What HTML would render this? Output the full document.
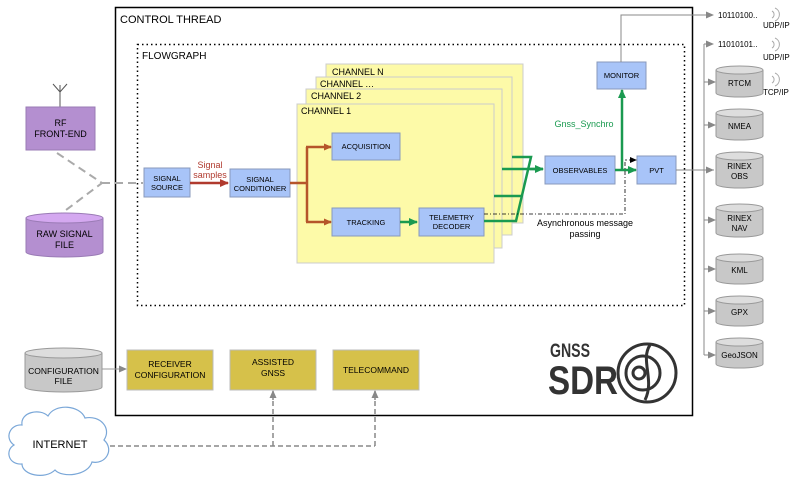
<!DOCTYPE html>
<html><head><meta charset="utf-8"><style>
html,body{margin:0;padding:0;background:#fff}
svg{display:block;font-family:"Liberation Sans",Arial,sans-serif}
</style></head><body>
<svg width="800" height="482" viewBox="0 0 800 482" xmlns="http://www.w3.org/2000/svg">
<defs>
<marker id="ag" markerWidth="8" markerHeight="8" refX="7" refY="4" orient="auto" markerUnits="userSpaceOnUse"><path d="M0,0.5 L8,4 L0,7.5z" fill="#888"/></marker>
<marker id="ab" markerWidth="8" markerHeight="8" refX="7" refY="4" orient="auto" markerUnits="userSpaceOnUse"><path d="M0,0.5 L8,4 L0,7.5z" fill="#b5552a"/></marker>
<marker id="ar" markerWidth="9" markerHeight="9" refX="8" refY="4.5" orient="auto" markerUnits="userSpaceOnUse"><path d="M0,0.5 L9,4.5 L0,8.5z" fill="#b03a2e"/></marker>
<marker id="agr" markerWidth="9" markerHeight="9" refX="8" refY="4.5" orient="auto" markerUnits="userSpaceOnUse"><path d="M0,0.5 L9,4.5 L0,8.5z" fill="#1a9a50"/></marker>
<marker id="ak" markerWidth="7" markerHeight="7" refX="6" refY="3.5" orient="auto" markerUnits="userSpaceOnUse"><path d="M0,0.5 L7,3.5 L0,6.5z" fill="#000"/></marker>
</defs>

<!-- control thread -->
<rect x="115.5" y="7.5" width="577" height="408" fill="#fff" stroke="#000" stroke-width="1.5"/>
<text x="120" y="23" font-size="11">CONTROL THREAD</text>
<rect x="137.5" y="44.5" width="547" height="261" fill="none" stroke="#000" stroke-width="1.5" stroke-dasharray="1.5,3"/>
<text x="142" y="59" font-size="10">FLOWGRAPH</text>

<!-- RF front end -->
<line x1="60" y1="85" x2="60" y2="107" stroke="#555"/>
<path d="M53,84 L60,92 L67,84" stroke="#555" fill="none"/>
<rect x="26" y="107" width="69" height="43" fill="#b48fd0" stroke="#9a7bb5"/>
<text x="60.5" y="126" font-size="9" text-anchor="middle">RF</text>
<text x="60.5" y="137" font-size="9" text-anchor="middle">FRONT-END</text>
<!-- raw signal file -->
<path d="M26,218 L26,252 A38.5,5 0 0 0 103,252 L103,218" fill="#b48fd0" stroke="#9a7bb5"/>
<ellipse cx="64.5" cy="218" rx="38.5" ry="5" fill="#d4a8f0" stroke="#9a7bb5"/>
<text x="64.5" y="237" font-size="9" text-anchor="middle">RAW SIGNAL</text>
<text x="64.5" y="248" font-size="9" text-anchor="middle">FILE</text>
<path d="M57,153 L102,183 L62,213 M102,183 L143,183" stroke="#aaa" stroke-width="2" fill="none" stroke-dasharray="8,5"/>

<!-- signal source / conditioner -->
<rect x="144" y="168" width="46" height="29" fill="#a8c4f8" stroke="#8899bb"/>
<text x="167" y="181" font-size="7.5" text-anchor="middle">SIGNAL</text>
<text x="167" y="190" font-size="7.5" text-anchor="middle">SOURCE</text>
<text x="210" y="168" font-size="9" fill="#b03a2e" text-anchor="middle">Signal</text>
<text x="210" y="178" font-size="9" fill="#b03a2e" text-anchor="middle">samples</text>
<line x1="190" y1="183" x2="228" y2="183" stroke="#b03a2e" stroke-width="2.5" marker-end="url(#ar)"/>
<rect x="230" y="169" width="60" height="28" fill="#a8c4f8" stroke="#8899bb"/>
<text x="260" y="182" font-size="7.5" text-anchor="middle">SIGNAL</text>
<text x="260" y="191" font-size="7.5" text-anchor="middle">CONDITIONER</text>

<!-- channels -->
<rect x="326" y="64" width="197" height="159" fill="#fdfaa8" stroke="#ccc"/>
<text x="332" y="75" font-size="9">CHANNEL N</text>
<rect x="316" y="77" width="196" height="158" fill="#fdfaa8" stroke="#ccc"/>
<text x="320" y="87" font-size="9">CHANNEL …</text>
<rect x="306" y="89" width="196" height="159" fill="#fdfaa8" stroke="#ccc"/>
<text x="311" y="99" font-size="9">CHANNEL 2</text>
<rect x="297" y="104" width="197" height="159" fill="#fdfaa8" stroke="#ccc"/>
<text x="301" y="114" font-size="9">CHANNEL 1</text>

<rect x="332" y="133" width="68" height="27" fill="#a8c4f8" stroke="#8899bb"/>
<text x="366" y="149" font-size="7.5" text-anchor="middle">ACQUISITION</text>
<rect x="332" y="208" width="68" height="28" fill="#a8c4f8" stroke="#8899bb"/>
<text x="366" y="225" font-size="7.5" text-anchor="middle">TRACKING</text>
<rect x="419" y="208" width="65" height="28" fill="#a8c4f8" stroke="#8899bb"/>
<text x="451.5" y="220" font-size="7.5" text-anchor="middle">TELEMETRY</text>
<text x="451.5" y="229" font-size="7.5" text-anchor="middle">DECODER</text>

<path d="M290,183 L307,183 M307,147 L307,222" stroke="#b5552a" stroke-width="2.5" fill="none"/>
<line x1="306" y1="147" x2="331" y2="147" stroke="#b5552a" stroke-width="2.5" marker-end="url(#ab)"/>
<line x1="306" y1="222" x2="331" y2="222" stroke="#b5552a" stroke-width="2.5" marker-end="url(#ab)"/>
<line x1="400" y1="222" x2="417" y2="222" stroke="#1a9a50" stroke-width="2.5" marker-end="url(#agr)"/>

<!-- green merging lines -->
<g stroke="#1a9a50" stroke-width="2.5" fill="none">
<path d="M512,157 L531,157 L516,221 L484,221"/>
<path d="M502,169 L543,169"/>
<path d="M494,196 L522,196"/>
</g>
<line x1="530" y1="169" x2="543" y2="169" stroke="#1a9a50" stroke-width="2.5" marker-end="url(#agr)"/>

<rect x="545" y="156" width="70" height="28" fill="#a8c4f8" stroke="#8899bb"/>
<text x="580" y="173" font-size="7.5" text-anchor="middle">OBSERVABLES</text>
<rect x="637" y="156" width="39" height="28" fill="#a8c4f8" stroke="#8899bb"/>
<text x="656.5" y="173" font-size="7.5" text-anchor="middle">PVT</text>
<rect x="597" y="62" width="49" height="27" fill="#a8c4f8" stroke="#8899bb"/>
<text x="621.5" y="78" font-size="7.5" text-anchor="middle">MONITOR</text>
<line x1="615" y1="170" x2="636" y2="170" stroke="#1a9a50" stroke-width="2.5" marker-end="url(#agr)"/>
<line x1="622" y1="170" x2="622" y2="90" stroke="#1a9a50" stroke-width="2.5" marker-end="url(#agr)"/>
<text x="584" y="127" font-size="9" fill="#1a9a50" text-anchor="middle">Gnss_Synchro</text>

<path d="M484,214 L625,214 L625,160" stroke="#000" stroke-width="0.8" fill="none" stroke-dasharray="4,2,1,2"/>
<line x1="625" y1="160" x2="636" y2="160" stroke="#000" stroke-width="0.8" stroke-dasharray="2,2" marker-end="url(#ak)"/>
<text x="585" y="226" font-size="9" text-anchor="middle">Asynchronous message</text>
<text x="585" y="237" font-size="9" text-anchor="middle">passing</text>

<!-- outputs -->
<g stroke="#888" stroke-width="1" fill="none">
<path d="M621,62 L621,15 L705,15"/>
<path d="M676,170 L714,170"/>
<path d="M704,44 L704,355"/>
</g>
<line x1="690" y1="15" x2="713" y2="15" stroke="#888" marker-end="url(#ag)"/>
<line x1="690" y1="170" x2="713" y2="170" stroke="#888" marker-end="url(#ag)"/>
<g stroke="#888" marker-end="url(#ag)">
<line x1="704" y1="44" x2="713" y2="44"/>
<line x1="704" y1="82" x2="715" y2="82"/>
<line x1="704" y1="125" x2="715" y2="125"/>
<line x1="704" y1="220" x2="715" y2="220"/>
<line x1="704" y1="269" x2="715" y2="269"/>
<line x1="704" y1="311" x2="715" y2="311"/>
<line x1="704" y1="355" x2="715" y2="355"/>
</g>
<text x="718" y="18" font-size="8">10110100..</text>
<text x="718" y="47" font-size="8">11010101..</text>
<g font-size="8">
<text x="763" y="28">UDP/IP</text>
<text x="763" y="60">UDP/IP</text>
<text x="763" y="95">TCP/IP</text>
</g>
<g stroke="#aaa" fill="none" stroke-width="1">
<path d="M772,11 a4,4 0 0 1 0,7 M775,8 a7,7 0 0 1 0,13"/>
<path d="M772,41 a4,4 0 0 1 0,7 M775,38 a7,7 0 0 1 0,13"/>
<path d="M772,76 a4,4 0 0 1 0,7 M775,73 a7,7 0 0 1 0,13"/>
</g>

<g stroke="#999" fill="#c8c8c8">
<path d="M716,70 L716,93 A23.5,4 0 0 0 763,93 L763,70"/><ellipse cx="739.5" cy="70" rx="23.5" ry="4" fill="#ddd"/>
<path d="M716,113 L716,136 A23.5,4 0 0 0 763,136 L763,113"/><ellipse cx="739.5" cy="113" rx="23.5" ry="4" fill="#ddd"/>
<path d="M716,156 L716,184 A23.5,4 0 0 0 763,184 L763,156"/><ellipse cx="739.5" cy="156" rx="23.5" ry="4" fill="#ddd"/>
<path d="M716,208 L716,233 A23.5,4 0 0 0 763,233 L763,208"/><ellipse cx="739.5" cy="208" rx="23.5" ry="4" fill="#ddd"/>
<path d="M716,258 L716,280 A23.5,4 0 0 0 763,280 L763,258"/><ellipse cx="739.5" cy="258" rx="23.5" ry="4" fill="#ddd"/>
<path d="M716,300 L716,322 A23.5,4 0 0 0 763,322 L763,300"/><ellipse cx="739.5" cy="300" rx="23.5" ry="4" fill="#ddd"/>
<path d="M716,342 L716,364 A23.5,4 0 0 0 763,364 L763,342"/><ellipse cx="739.5" cy="342" rx="23.5" ry="4" fill="#ddd"/>
</g>
<g font-size="8" text-anchor="middle">
<text x="739.5" y="86">RTCM</text>
<text x="739.5" y="129">NMEA</text>
<text x="739.5" y="169">RINEX</text><text x="739.5" y="179">OBS</text>
<text x="739.5" y="221">RINEX</text><text x="739.5" y="231">NAV</text>
<text x="739.5" y="273">KML</text>
<text x="739.5" y="315">GPX</text>
<text x="739.5" y="358">GeoJSON</text>
</g>

<!-- bottom -->
<path d="M25,353 L25,387 A38.5,5 0 0 0 102,387 L102,353" fill="#c8c8c8" stroke="#999"/>
<ellipse cx="63.5" cy="353" rx="38.5" ry="5" fill="#ddd" stroke="#999"/>
<text x="63.5" y="374" font-size="8.5" text-anchor="middle">CONFIGURATION</text>
<text x="63.5" y="384" font-size="8.5" text-anchor="middle">FILE</text>
<line x1="102" y1="369" x2="126" y2="369" stroke="#999" marker-end="url(#ag)"/>
<rect x="127" y="350" width="86" height="40" fill="#d6c14a" stroke="#bbb"/>
<text x="170" y="367" font-size="8.5" text-anchor="middle">RECEIVER</text>
<text x="170" y="378" font-size="8.5" text-anchor="middle">CONFIGURATION</text>
<rect x="230" y="350" width="86" height="40" fill="#d6c14a" stroke="#bbb"/>
<text x="273" y="365" font-size="8.5" text-anchor="middle">ASSISTED</text>
<text x="273" y="376" font-size="8.5" text-anchor="middle">GNSS</text>
<rect x="333" y="350" width="86" height="40" fill="#d6c14a" stroke="#bbb"/>
<text x="376" y="373" font-size="8.5" text-anchor="middle">TELECOMMAND</text>

<path d="M110,446 L375,446 M273,446 L273,395 M375,446 L375,395" stroke="#888" stroke-width="1.5" fill="none" stroke-dasharray="5,3"/>
<line x1="273" y1="400" x2="273" y2="391" stroke="#888" stroke-width="1.5" marker-end="url(#ag)"/>
<line x1="375" y1="400" x2="375" y2="391" stroke="#888" stroke-width="1.5" marker-end="url(#ag)"/>

<path d="M22,425 C20,412 40,408 48,416 C55,403 80,405 85,418 C100,415 112,428 104,440 C115,450 105,465 92,462 C88,476 62,478 55,470 C45,480 22,475 22,464 C8,465 5,450 14,445 C4,438 10,424 22,425z" fill="#fff" stroke="#7aa7d8" stroke-width="1.2"/>
<text x="60" y="448" font-size="11" text-anchor="middle">INTERNET</text>

<!-- logo -->
<text x="550" y="357" font-size="19" font-weight="bold" fill="#333" textLength="40" lengthAdjust="spacingAndGlyphs">GNSS</text>
<text x="548" y="394" font-size="40" font-weight="bold" fill="#333" textLength="70" lengthAdjust="spacingAndGlyphs">SDR</text>
<g fill="none" stroke="#333" stroke-width="3">
<circle cx="647" cy="373" r="29"/>
<circle cx="643" cy="373" r="17"/>
<circle cx="639" cy="373" r="6"/>
<path d="M650,345 C640,360 655,380 645,400"/>
</g>
</svg>
</body></html>
